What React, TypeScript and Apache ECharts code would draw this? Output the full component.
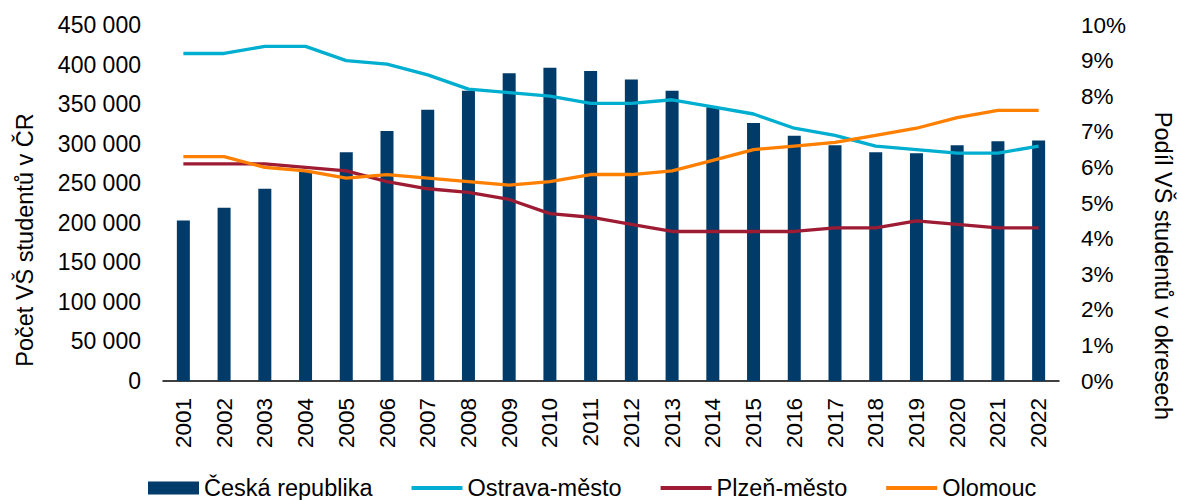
import React, { useEffect, useRef } from "react";
import * as echarts from "echarts";

const years = ["2001","2002","2003","2004","2005","2006","2007","2008","2009","2010","2011","2012","2013","2014","2015","2016","2017","2018","2019","2020","2021","2022"];
const ceskaRepublika = [203000,219000,243000,265000,289000,316000,343000,367000,389000,396000,392000,381000,367000,346000,326000,310000,298000,289000,288000,298000,303000,304000];
const ostrava = [9.2,9.2,9.4,9.4,9.0,8.9,8.6,8.2,8.1,8.0,7.8,7.8,7.9,7.7,7.5,7.1,6.9,6.6,6.5,6.4,6.4,6.6];
const plzen = [6.1,6.1,6.1,6.0,5.9,5.6,5.4,5.3,5.1,4.7,4.6,4.4,4.2,4.2,4.2,4.2,4.3,4.3,4.5,4.4,4.3,4.3];
const olomouc = [6.3,6.3,6.0,5.9,5.7,5.8,5.7,5.6,5.5,5.6,5.8,5.8,5.9,6.2,6.5,6.6,6.7,6.9,7.1,7.4,7.6,7.6];

const FONT = "'Liberation Sans', Arial, sans-serif";
const FS = 22.5;
const FSL = 23.5;
const hideSym = { opacity: 0 };

export default function App() {
  const ref = useRef<HTMLDivElement>(null);
  useEffect(() => {
    const chart = echarts.init(ref.current!, null, { renderer: "svg" });
    chart.setOption({
      animation: false,
      textStyle: { fontFamily: FONT, color: "#000" },
      grid: { left: 163, right: 118, top: 25, bottom: 119 },
      legend: {
        left: 143,
        top: 471,
        itemWidth: 51,
        itemHeight: 13,
        itemGap: 37,
        textStyle: { fontFamily: FONT, fontSize: FSL, color: "#000" },
        data: [
          { name: "Česká republika", icon: "rect" },
          { name: "Ostrava-město", itemStyle: hideSym, lineStyle: { width: 4 } },
          { name: "Plzeň-město", itemStyle: hideSym, lineStyle: { width: 4 } },
          { name: "Olomouc", itemStyle: hideSym, lineStyle: { width: 4 } },
        ],
      },
      graphic: [
        {
          type: "text",
          x: 25,
          y: 240,
          rotation: Math.PI / 2,
          style: { text: "Počet VŠ studentů v ČR", font: `${FSL}px ${FONT}`, fill: "#000", textAlign: "center", textVerticalAlign: "middle" },
        },
        {
          type: "text",
          x: 1163,
          y: 266,
          rotation: -Math.PI / 2,
          style: { text: "Podíl VŠ studentů v okresech", font: `${FSL}px ${FONT}`, fill: "#000", textAlign: "center", textVerticalAlign: "middle" },
        },
      ],
      xAxis: {
        type: "category",
        data: years,
        axisLine: { lineStyle: { color: "#000", width: 1.5 } },
        axisTick: { show: false },
        axisLabel: { rotate: 90, fontSize: FS, color: "#000", fontFamily: FONT, margin: 17 },
      },
      yAxis: [
        {
          type: "value",
          min: 0,
          max: 450000,
          interval: 50000,
          splitLine: { show: false },
          axisLine: { show: false },
          axisTick: { show: false },
          axisLabel: {
            fontSize: 23,
            color: "#000",
            fontFamily: FONT,
            margin: 22,
            formatter: (v: number) => String(v).replace(/\B(?=(\d{3})+(?!\d))/g, " "),
          },
        },
        {
          type: "value",
          min: 0,
          max: 10,
          interval: 1,
          splitLine: { show: false },
          axisLine: { show: false },
          axisTick: { show: false },
          axisLabel: { fontSize: FS, color: "#000", fontFamily: FONT, margin: 22, formatter: (v: number) => `${v}%` },
        },
      ],
      series: [
        {
          name: "Česká republika",
          type: "bar",
          data: ceskaRepublika,
          barWidth: 13,
          itemStyle: { color: "#003B69" },
        },
        {
          name: "Ostrava-město",
          type: "line",
          yAxisIndex: 1,
          data: ostrava,
          symbol: "none",
          lineStyle: { color: "#00AED0", width: 3.3 },
          itemStyle: { color: "#00AED0" },
        },
        {
          name: "Plzeň-město",
          type: "line",
          yAxisIndex: 1,
          data: plzen,
          symbol: "none",
          lineStyle: { color: "#9E1B34", width: 3.3 },
          itemStyle: { color: "#9E1B34" },
        },
        {
          name: "Olomouc",
          type: "line",
          yAxisIndex: 1,
          data: olomouc,
          symbol: "none",
          lineStyle: { color: "#FF7F00", width: 3.3 },
          itemStyle: { color: "#FF7F00" },
        },
      ],
    });
    return () => chart.dispose();
  }, []);
  return <div ref={ref} style={{ width: 1177, height: 500, position: "absolute", left: 0, top: 0 }} />;
}
